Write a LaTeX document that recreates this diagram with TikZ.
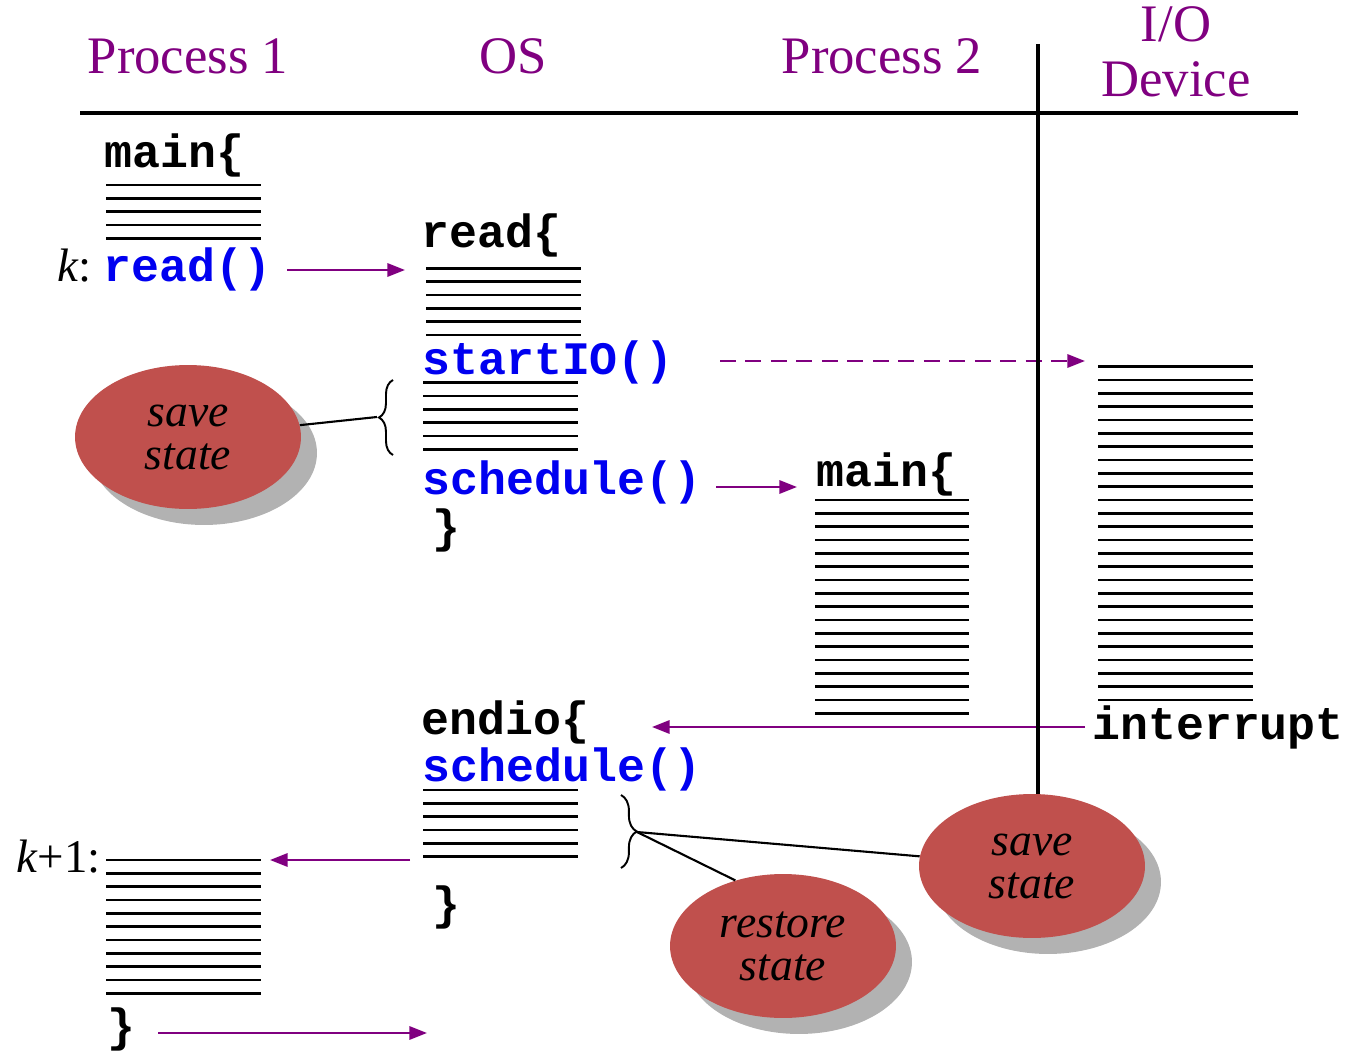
\documentclass[tikz,border=0pt]{standalone}
\usepackage{fontspec}
\setmainfont{Liberation Serif}
\setmonofont{Liberation Mono}
\usetikzlibrary{arrows.meta,decorations.pathreplacing,shadows,shapes.geometric}
\definecolor{hdrpurple}{HTML}{800080}
\definecolor{codeblue}{HTML}{0000F0}
\definecolor{statered}{HTML}{C0504D}
\definecolor{shadowgray}{HTML}{B2B2B2}
\newcommand\codestack[4]{%
  \foreach \i in {1,...,#4}{%
    \draw[codeline] (#1,{#3+(\i-1)*13.33}) -- (#2,{#3+(\i-1)*13.33});}}
\tikzset{
  codeline/.style={line width=1.5pt, line cap=butt},
  hdr/.style={text=hdrpurple, font=\fontsize{30}{30}\selectfont, inner sep=0pt},
  code/.style={font=\fontsize{26.5}{26}\selectfont\ttfamily\bfseries, inner sep=0pt},
  bluecode/.style={code, text=codeblue},
  lbl/.style={font=\fontsize{26.7}{26}\selectfont, inner sep=0pt},
  flow/.style={draw=hdrpurple, line width=1.4pt, -{Triangle[length=10pt,width=7.5pt]}},
  rule/.style={line width=2pt},
  statebubble/.style={ellipse, fill=statered, minimum width=4.52cm, minimum height=2.88cm,
     inner sep=0pt, align=center, font=\fontsize{26}{24.5}\selectfont\itshape,
     drop shadow={shadow xshift=0.32cm, shadow yshift=-0.32cm, fill=shadowgray, opacity=1}},
  bracestyle/.style={decorate, line width=1.1pt},
  pointer/.style={line width=1.2pt}
}
\begin{document}
\begin{tikzpicture}[x=0.02cm,y=-0.02cm]
\useasboundingbox (0,0) rectangle (1352,1051);
% headers
\node[hdr, anchor=base] (p1) at (188,74) {Process 1};
\node[hdr, anchor=base] (os) at (513,74) {OS};
\node[hdr, anchor=base] (p2) at (882,74) {Process 2};
\node[hdr, anchor=base] (io) at (1176,42) {I/O};
\node[hdr, anchor=base] (dev) at (1176,96) {Device};
\coordinate (hl) at (80,113);
\coordinate (hr) at (1298,113);
\draw[rule] (hl) -- (hr);
% Process 1
\node[code, anchor=base west] (main1) at (104,167) {main\{};
\codestack{106}{261}{185}{5}
\node[lbl, anchor=base east] (k) at (92,281) {\textit{k}:};
\node[bluecode, anchor=base west] (readcall) at (103,281) {read()};
\coordinate (a1s) at (287,270);
\coordinate (a1e) at (405,270);
\draw[flow] (a1s) -- (a1e);
% OS read
\node[code, anchor=base west] (readdef) at (421,247) {read\{};
\codestack{426}{581}{268.3}{6}
\node[bluecode, anchor=base west] (startio) at (422,374) {startIO()};
\codestack{423}{578}{382.7}{6}
\node[bluecode, anchor=base west] (sched1) at (422,494) {schedule()};
\node[code, anchor=base west] (close1) at (432,542) {\}};
\coordinate (a2s) at (720,361);
\coordinate (a2e) at (1085,361);
\draw[flow, dash pattern=on 9pt off 5.5pt] (a2s) -- (a2e);
\coordinate (a3s) at (716,487);
\coordinate (a3e) at (797,487);
\draw[flow] (a3s) -- (a3e);
% brace 1 + save state
\draw[bracestyle, decoration={brace, amplitude=8pt}] (393,455) -- (393,380);
\coordinate (b1tip) at (377,417);
\node[statebubble] (ss1) at (188,437) {save\\state};
\draw[pointer] (ss1) -- (b1tip);
% Process 2
\node[code, anchor=base west] (main2) at (816,486) {main\{};
\codestack{815}{969}{500}{17}
% I/O device
\codestack{1098}{1253}{366.7}{26}
\node[code, anchor=base west] (intr) at (1092,739) {interrupt};
\coordinate (a4s) at (1085,727);
\coordinate (a4e) at (652,727);
\draw[flow] (a4s) -- (a4e);
% endio
\node[code, anchor=base west] (endio) at (421,734) {endio\{};
\node[bluecode, anchor=base west] (sched2) at (422,781) {schedule()};
\codestack{423}{578}{790}{6}
\node[code, anchor=base west] (close2) at (432,919) {\}};
\draw[bracestyle, decoration={brace, amplitude=9pt}] (621,795) -- (621,868);
\coordinate (b2tip) at (637,832);
\node[statebubble] (ss2) at (1032,866) {save\\state};
\node[statebubble] (rs) at (783,946) {restore\\state};
\draw[pointer] (b2tip) -- (ss2);
\draw[pointer] (b2tip) -- (rs.126);
% vertical rule
\coordinate (vtop) at (1038,44);
\draw[rule] (vtop) -- (vtop |- ss2.north);
% k+1
\node[lbl, anchor=base east] (k1) at (101,872) {\textit{k}+1:};
\codestack{106}{261}{860}{11}
\coordinate (a5s) at (410,860);
\coordinate (a5e) at (270,860);
\draw[flow] (a5s) -- (a5e);
\node[code, anchor=base west] (close3) at (107,1041) {\}};
\coordinate (a6s) at (158,1033);
\coordinate (a6e) at (427,1033);
\draw[flow] (a6s) -- (a6e);
\end{tikzpicture}
\end{document}
